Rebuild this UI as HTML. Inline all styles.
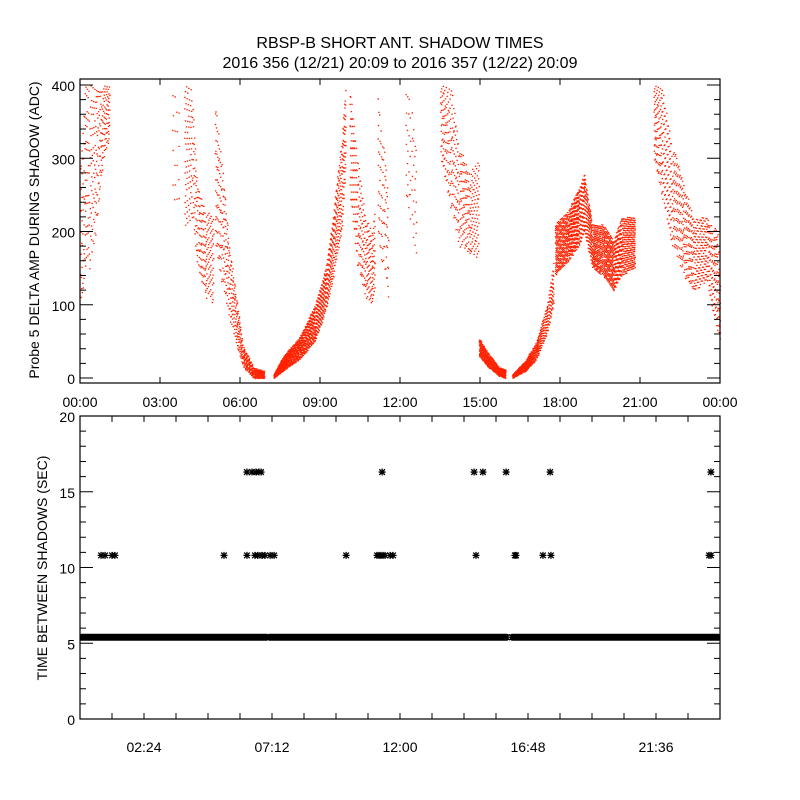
<!DOCTYPE html>
<html><head><meta charset="utf-8"><style>
body{margin:0;background:#fff;}
svg{display:block;font-family:"Liberation Sans",sans-serif;}
text{fill:#000;font-size:14px;}
</style></head><body>
<svg id="chart" width="800" height="800">
<defs><clipPath id="botClip"><rect x="80" y="416" width="640" height="303"/></clipPath></defs>
<rect width="800" height="800" fill="#fff"/>
<text x="400" y="48" text-anchor="middle" style="font-size:16px">RBSP-B SHORT ANT. SHADOW TIMES</text>
<text x="400" y="68" text-anchor="middle" style="font-size:16px">2016 356 (12/21) 20:09 to 2016 357 (12/22) 20:09</text>
<g id="topPanel"></g>
<g id="botPanel"></g>
<text transform="translate(39,230) rotate(-90)" text-anchor="middle">Probe 5 DELTA AMP DURING SHADOW (ADC)</text>
<text transform="translate(47,568) rotate(-90)" text-anchor="middle">TIME BETWEEN SHADOWS (SEC)</text>
</svg>
<script>
// ---- top panel data: bands of amplitude readings [hour, low, high] ----
const seg1 = [[0,100,300],[0.15,130,400],[0.35,150,400],[0.6,200,400],[0.8,280,400],[1.1,330,400]];
const seg2 = [[3.45,230,400],[3.75,240,400]];
const seg3 = [[3.9,200,400],[4.2,220,400],[4.4,150,260],[4.7,110,230],[5.0,100,220]];
const seg4 = [[5.05,180,380],[5.3,130,300],[5.6,80,180],[5.9,40,100],[6.1,15,45],[6.5,0,15],[6.9,0,10]];
const seg5 = [[7.25,0,5],[7.6,10,30],[8.2,25,55],[8.8,50,100],[9.2,90,150],[9.5,140,230],[9.8,200,330],[9.95,280,400]];
const seg6 = [[10.1,250,400],[10.4,150,300],[10.7,110,220],[10.95,100,200],[11.05,120,240]];
const seg7 = [[11.15,200,400],[11.35,140,330],[11.55,110,250]];
const seg8 = [[12.2,250,400],[12.4,200,400],[12.6,170,320]];
const seg9 = [[13.5,300,400],[13.9,230,400],[14.2,180,320],[14.6,170,280],[14.95,160,300]];
const seg10 = [[14.95,30,55],[15.3,15,35],[15.7,3,15],[15.95,0,12]];
const seg11 = [[16.2,0,5],[16.7,10,25],[17.1,25,50],[17.5,60,100],[17.75,100,160]];
const seg12 = [[17.8,140,210],[18.3,160,230],[18.7,180,260],[18.9,200,280],[19.2,150,210],[19.6,140,210],[20.0,120,190],[20.3,140,220],[20.8,150,220]];
const seg13 = [[21.5,300,400],[21.8,250,400],[22.2,180,320],[22.6,140,270],[23.0,120,220],[23.5,130,220],[23.9,60,200],[24,40,120]];
const segments = [seg1,seg2,seg3,seg4,seg5,seg6,seg7,seg8,seg9,seg10,seg11,seg12,seg13];
const segDensity = [260,60,260,300,500,300,200,120,260,400,350,600,320]; // readings per hour
const topXTicks = ["00:00","03:00","06:00","09:00","12:00","15:00","18:00","21:00","00:00"];
const topYTicks = [0,100,200,300,400];

// ---- bottom panel data ----
const midHours = [0.79,0.94,1.2,1.31,5.4,6.26,6.56,6.67,6.82,6.94,7.13,7.28,9.98,11.14,11.21,11.29,11.36,11.44,11.63,11.74,14.85,16.31,16.35,17.36,17.66];
const midValue = 10.8;
const highHours = [6.26,6.45,6.6,6.71,6.79,11.33,14.78,15.11,15.98,17.63,23.66];
const highValue = 16.3;
const edgeHours = [23.59,23.66];
const bandRuns = [[0.0,7.0],[7.1,16.05],[16.2,24.0]];
const bandValue = 5.4;
const botXTicks = ["02:24","07:12","12:00","16:48","21:36"];
const botYTicks = [0,5,10,15,20];

const NS="http://www.w3.org/2000/svg";
function mk(tag,attrs,parent){const e=document.createElementNS(NS,tag);for(const k in attrs)e.setAttribute(k,attrs[k]);parent.appendChild(e);return e;}

// top axes
const T={x0:80,x1:720,y0:383,y1:79};
const tx=h=>T.x0+(h/24)*(T.x1-T.x0);
const ty=v=>378-v*0.7325;
const topG=document.getElementById('topPanel');
let d="";
segments.forEach((seg,si)=>{
  let k=0;
  for(let i=0;i<seg.length-1;i++){
    const a=seg[i],b=seg[i+1];
    const n=Math.max(2,Math.round((b[0]-a[0])*segDensity[si]));
    for(let j=0;j<n;j++){
      k++;
      const f=(0.5+k*0.7548776662)%1;
      const u=(0.5+k*0.5698402910)%1;
      const t=a[0]+(b[0]-a[0])*f;
      const lo=a[1]+(b[1]-a[1])*f, hi=a[2]+(b[2]-a[2])*f;
      const v=lo+(hi-lo)*u;
      const px=tx(t),py=ty(v);
      if(py<T.y1||py>T.y0)continue;
      d+="M"+px.toFixed(1)+" "+py.toFixed(1)+"h1.4v1.3h-1.4z";
    }
  }
});
const dots=mk('path',{d:d,fill:'#ff2200'},topG);


const tf=mk('rect',{x:T.x0,y:T.y1,width:T.x1-T.x0,height:T.y0-T.y1,fill:'none',stroke:'#000','stroke-width':1.2},topG);


let tk="";
for(let h=0;h<=24;h+=3){const x=tx(h);tk+=`M${x} ${T.y0}v-6M${x} ${T.y1}v6`;}
for(let v=0;v<=400;v+=20){const y=ty(v);const L=v%100===0?13:6;tk+=`M${T.x0} ${y}h${L}M${T.x1} ${y}h${-L}`;}
const tt=mk('path',{d:tk,stroke:'#000','stroke-width':1,fill:'none'},topG);


topXTicks.forEach((s,i)=>{const e=mk('text',{x:tx(i*3),y:407,'text-anchor':'middle'},topG);e.textContent=s;

});
topYTicks.forEach(v=>{const e=mk('text',{x:75,y:ty(v)+6,'text-anchor':'end'},topG);e.textContent=v;

});

// bottom axes
const B={x0:80,x1:720,y0:719,y1:416};
const bx=h=>B.x0+(h/24)*(B.x1-B.x0);
const by=v=>B.y0-v*(B.y0-B.y1)/20;
const botG=document.getElementById('botPanel');
function star(x,y){return `M${x-3.5} ${y}h7M${x} ${y-3.5}v7M${x-2.8} ${y-2.8}l5.6 5.6M${x-2.8} ${y+2.8}l5.6 -5.6`;}
let sb="";
bandRuns.forEach(r=>{for(let h=r[0];h<=r[1];h+=0.05)sb+=star(bx(h),by(bandValue));});
const band=mk('path',{d:sb,stroke:'#000','stroke-width':1.3,fill:'none','clip-path':'url(#botClip)'},botG);


let sm="";
midHours.forEach(h=>sm+=star(bx(h),by(midValue)));
edgeHours.forEach(h=>sm+=star(bx(h),by(midValue)));
const mid=mk('path',{d:sm,stroke:'#000','stroke-width':1.3,fill:'none','clip-path':'url(#botClip)'},botG);


let sh="";
highHours.forEach(h=>sh+=star(bx(h),by(highValue)));
const hi=mk('path',{d:sh,stroke:'#000','stroke-width':1.3,fill:'none','clip-path':'url(#botClip)'},botG);


const bf=mk('rect',{x:B.x0,y:B.y1,width:B.x1-B.x0,height:B.y0-B.y1,fill:'none',stroke:'#000','stroke-width':1.2},botG);


let bk="";
for(let i=0;i<=20;i++){const x=bx(i*1.2);bk+=`M${x} ${B.y0}v-6M${x} ${B.y1}v6`;}
for(let v=0;v<=20;v++){const y=by(v);const L=v%5===0?13:6;bk+=`M${B.x0} ${y}h${L}M${B.x1} ${y}h${-L}`;}
const bt=mk('path',{d:bk,stroke:'#000','stroke-width':1,fill:'none'},botG);


botXTicks.forEach((s,i)=>{const e=mk('text',{x:bx(2.4+i*4.8),y:752,'text-anchor':'middle'},botG);e.textContent=s;

});
botYTicks.forEach(v=>{const e=mk('text',{x:75,y:by(v)+6,'text-anchor':'end'},botG);e.textContent=v;

});
</script>
</body></html>
